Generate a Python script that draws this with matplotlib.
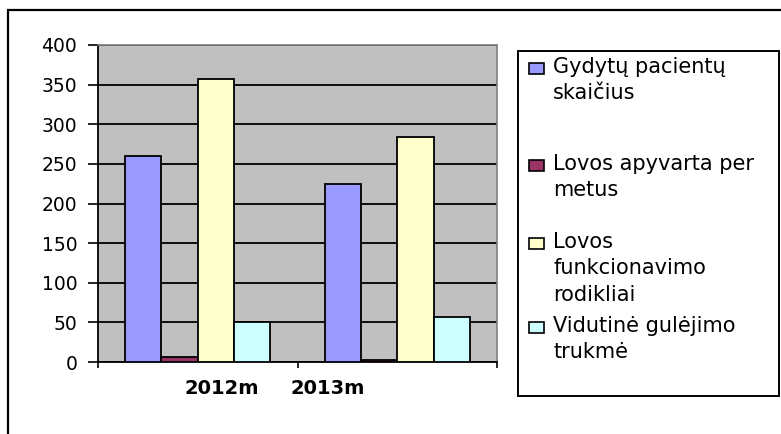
import numpy as np
import matplotlib.pyplot as plt
from matplotlib.patches import Rectangle

# Duomenys
metai = ['2012m', '2013m']
serijos = ['Gydytų pacientų\nskaičius',
           'Lovos apyvarta per\nmetus',
           'Lovos\nfunkcionavimo\nrodikliai',
           'Vidutinė gulėjimo\ntrukmė']
gydyti_pacientai = [260, 225]
lovos_apyvarta = [6, 3]
lovos_funkcionavimas = [357, 284]
gulejimo_trukme = [51, 57]
reiksmes = [gydyti_pacientai, lovos_apyvarta, lovos_funkcionavimas, gulejimo_trukme]
spalvos = ['#9999FF', '#993366', '#FFFFCC', '#CCFFFF']

W, H = 781, 434
plt.rcParams['font.family'] = ['DejaVu Sans']
fig = plt.figure(figsize=(W / 100, H / 100), dpi=100)

# Rėmelis aplink visą diagramą
fig.patches.append(Rectangle((8 / W, -0.1), 1.2, (H - 10) / H + 0.1, transform=fig.transFigure,
                             fill=False, edgecolor='black', linewidth=1.6))

ax = fig.add_axes([98 / W, (H - 362) / H, (497 - 98) / W, (362 - 45) / H])
ax.set_facecolor('#C0C0C0')

x = np.arange(len(metai))
plotis = 0.182
for i, (vals, c) in enumerate(zip(reiksmes, spalvos)):
    ax.bar(x + (i - 1.5) * plotis, vals, width=plotis, color=c,
           edgecolor='black', linewidth=1.3, zorder=3)

ax.set_xlim(-0.5, 1.5)
ax.set_ylim(0, 400)
ax.set_yticks(np.arange(0, 401, 50))
ax.yaxis.grid(True, color='black', linewidth=1.3, zorder=0)
ax.set_axisbelow(True)
ax.tick_params(axis='y', direction='out', length=7, width=1.2, pad=8, labelsize=13.5)

# x ašies brūkšniai tarp kategorijų
ax.set_xticks([-0.5, 0.5, 1.5])
ax.set_xticklabels([])
ax.tick_params(axis='x', direction='out', length=4.5, width=1.2)

# kategorijų užrašai (Excel juos perstūmė)
poslinkiai = [24, -70]
for xi, lab, dx in zip(x, metai, poslinkiai):
    ax.annotate(lab, xy=(xi, 0), xycoords=('data', 'axes fraction'),
                xytext=(dx, -26), textcoords='offset pixels',
                ha='center', va='center', fontsize=14, fontweight='bold')

for s in ['top', 'right']:
    ax.spines[s].set_color('#808080')
    ax.spines[s].set_linewidth(1.2)
for s in ['left', 'bottom']:
    ax.spines[s].set_color('black')
    ax.spines[s].set_linewidth(1.3)

# Legenda
fig.patches.append(Rectangle((518 / W, (H - 396) / H), (779 - 518) / W, (396 - 51) / H,
                             transform=fig.transFigure, fill=False,
                             edgecolor='black', linewidth=1.4))
eilutes_y = [68, 165, 243, 327]
for lab, c, yy in zip(serijos, spalvos, eilutes_y):
    fig.patches.append(Rectangle((529 / W, (H - yy - 6) / H), 15 / W, 11 / H,
                                 transform=fig.transFigure, facecolor=c,
                                 edgecolor='black', linewidth=1.2))
    fig.text(553 / W, (H - yy + 11) / H, lab, ha='left', va='top',
             fontsize=15, linespacing=1.4)

fig.savefig('out.png', dpi=100)
